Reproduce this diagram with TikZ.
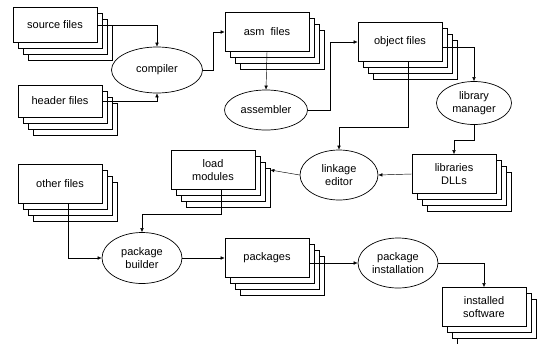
\documentclass[tikz,border=0pt]{standalone}
\usepackage{fontspec}
\setmainfont{Liberation Sans}
\usepackage{tikz}
\usetikzlibrary{shapes.geometric,shadows,arrows.meta}

\begin{document}
\begin{tikzpicture}[x=1pt,y=-1pt,
    every node/.style={font=\fontsize{11}{13}\selectfont},
    filebox/.style={draw,fill=white,line width=0.7pt,minimum width=84pt,minimum height=39pt,align=center,
        copy shadow={shadow xshift=15pt,shadow yshift=-18pt,draw=black,fill=white,line width=0.7pt},
        copy shadow={shadow xshift=10pt,shadow yshift=-12pt,draw=black,fill=white,line width=0.7pt},
        copy shadow={shadow xshift=5pt,shadow yshift=-6pt,draw=black,fill=white,line width=0.7pt}},
    tool/.style={ellipse,draw,line width=0.7pt,align=center,inner sep=0pt},
    link/.style={-{Latex[length=4pt,width=3.5pt]},line width=0.45pt}]
    \useasboundingbox (0,0) rectangle (537,343);
    % files and tools
    \node[filebox,minimum height=35pt] (src) at (55,25) {source files};
    \node[filebox,minimum height=32pt] (hdr) at (60,101) {header files};
    \node[tool,minimum width=91pt,minimum height=46pt] (comp) at (157,70) {compiler};
    \node[filebox] (asm) at (267,32) {asm\ \ files};
    \node[tool,minimum width=83pt,minimum height=40pt] (asmb) at (266,110) {assembler};
    \node[filebox] (obj) at (400,42) {object files};
    \node[tool,minimum width=75pt,minimum height=43pt] (libm) at (474,103) {library\\manager};
    \node[filebox] (libs) at (454,174) {libraries\\DLLs};
    \node[tool,minimum width=78pt,minimum height=50pt] (link) at (339,175) {linkage\\editor};
    \node[filebox] (load) at (213,170) {load\\modules};
    \node[filebox] (other) at (60,184) {other files};
    \node[tool,minimum width=80pt,minimum height=51pt] (pbld) at (142,258) {package\\builder};
    \node[filebox] (pkgs) at (267,258) {packages};
    \node[tool,minimum width=80pt,minimum height=50pt] (pinst) at (398,263) {package\\installation};
    \node[filebox] (inst) at (484,307) {installed\\software};
    % connectors
    \draw[link] (src.east) -| (comp.north);
    \draw[link] (hdr.east) -| (comp.south);
    \draw[link] (comp.east) -- ++(10,0) |- (asm.west);
    \draw[link] (asm.south) -- (asmb.north);
    \draw[link] (asmb.east) -- ++(22,0) |- (obj.west);
    \draw[link] ([yshift=-5pt]obj.east) -| (libm.north);
    \draw[link] ([xshift=8pt]obj.south) -- ++(0,65) -| (link.north);
    \draw[link] (libm.south) -- ++(0,15) -| (libs.north);
    \draw[link] (libs.west) -- (link.east);
    \draw[link] (link.west) -- ([xshift=15pt]load.east);
    \draw[link] ([xshift=8pt]load.south) -- ++(0,24) -| (pbld.north);
    \draw[link] ([xshift=8pt]other.south) |- (pbld.west);
    \draw[link] (pbld.east) -- (pkgs.west);
    \draw[link] (pinst.west -| pkgs.east) -- (pinst.west);
    \draw[link] (pinst.east) -| (inst.north);
\end{tikzpicture}
\end{document}
